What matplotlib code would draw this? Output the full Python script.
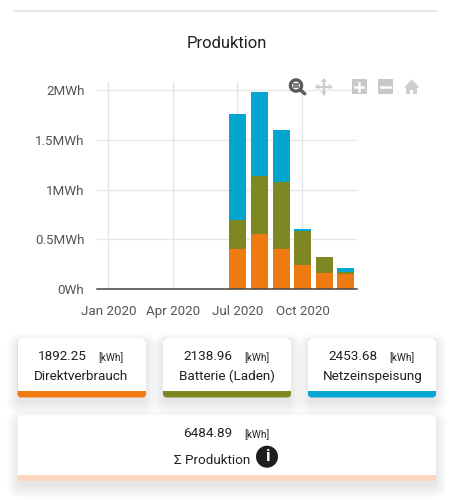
from datetime import date

import matplotlib
matplotlib.use("Agg")
import matplotlib.pyplot as plt
from matplotlib.patches import Circle, FancyBboxPatch, Polygon, Rectangle

plt.rcParams["font.family"] = ["Roboto", "DejaVu Sans"]

# Monthly production in MWh, stacked bottom to top
months = [date(2020, m, 1) for m in (7, 8, 9, 10, 11, 12)]
direct_use = [0.40, 0.55, 0.40, 0.24, 0.16, 0.15]
battery = [0.30, 0.59, 0.68, 0.34, 0.16, 0.025]
grid_feed = [1.06, 0.84, 0.52, 0.025, 0.005, 0.035]

y_ticks = [0, 0.5, 1, 1.5, 2]
y_labels = ["0Wh", "0.5MWh", "1MWh", "1.5MWh", "2MWh"]
x_ticks = [date(2020, 1, 1), date(2020, 4, 1), date(2020, 7, 1), date(2020, 10, 1)]
x_labels = ["Jan 2020", "Apr 2020", "Jul 2020", "Oct 2020"]

ORANGE, OLIVE, BLUE, PEACH = "#F07A12", "#7E8722", "#04A5CF", "#FDD6C2"
INK = "#212121"
W, H = 452, 500

fig = plt.figure(figsize=(W / 100, H / 100), dpi=100, facecolor="white")

# Chart area, positioned in pixels
left, right, top, bottom = 97, 357, 82, 289.3
ax = fig.add_axes([left / W, 1 - bottom / H, (right - left) / W, (bottom - top) / H])
ax.set_xlim(date(2019, 12, 16), date(2020, 12, 17))
ax.set_ylim(0, (bottom - top) / 99.7)

bar_width = 24
stack_top = [a + b for a, b in zip(direct_use, battery)]
ax.bar(months, direct_use, width=bar_width, color=ORANGE, zorder=3)
ax.bar(months, battery, width=bar_width, bottom=direct_use, color=OLIVE, zorder=3)
ax.bar(months, grid_feed, width=bar_width, bottom=stack_top, color=BLUE, zorder=3)

ax.set_yticks(y_ticks, y_labels)
ax.set_xticks(x_ticks, x_labels)
ax.tick_params(axis="both", length=0, labelsize=9.6, labelcolor="#555555")
ax.tick_params(axis="y", pad=9)
ax.tick_params(axis="x", pad=11.5)
ax.grid(axis="y", color="#E8E8E8", lw=1, zorder=0)
ax.grid(axis="x", color="#E6E6E6", lw=1, zorder=0)
for side in ("top", "right", "left"):
    ax.spines[side].set_visible(False)
ax.spines["bottom"].set_color("#444444")
ax.spines["bottom"].set_linewidth(1.1)
ax.spines["bottom"].set_zorder(4)

# Page layer in pixel coordinates: divider, heading, toolbar, summary cards
page = fig.add_axes([0, 0, 1, 1], facecolor="none")
page.set_xlim(0, W)
page.set_ylim(H, 0)
page.axis("off")

page.plot([14, 437], [11, 11], color="#E4E4E4", lw=1.2)
page.text(226.5, 43, "Produktion", ha="center", va="center", fontsize=12, color=INK)


def rounded(x0, y0, x1, y1, color, radius=4.0, **kw):
    patch = FancyBboxPatch((x0 + radius, y0 + radius), x1 - x0 - 2 * radius, y1 - y0 - 2 * radius,
                           boxstyle=f"round,pad={radius},rounding_size={radius}",
                           fc=color, ec="none", **kw)
    page.add_patch(patch)
    return patch


def card(x0, y0, x1, y1, strip_top, strip_color):
    # Soft drop shadow built from widening translucent layers
    for grow in range(11, -1, -1):
        rounded(x0 - grow, y0 - grow + 6, x1 + grow, y1 + grow + 6, "#000000",
                radius=4 + grow, alpha=0.009)
    rounded(x0, y0, x1, y1, strip_color)
    face = rounded(x0, y0, x1, y1, "white")
    clip = Rectangle((x0 - 1, y0 - 1), x1 - x0 + 2, strip_top - y0 + 1, transform=page.transData)
    face.set_clip_path(clip)


# Summary card contents
card_values = ["1892.25", "2138.96", "2453.68"]
card_names = ["Direktverbrauch", "Batterie (Laden)", "Netzeinspeisung"]
total_value = "6484.89"
total_name = "Σ Produktion"
unit = "[kWh]"

card_spans = [(17.5, 146), (163, 291), (308, 436)]
value_x = [62.7, 208, 353.3]
unit_x = [111, 257, 402.3]
name_x = [81.3, 227, 372.3]
for span, colour, val, name, vx, ux, nx in zip(card_spans, (ORANGE, OLIVE, BLUE), card_values,
                                               card_names, value_x, unit_x, name_x):
    card(span[0], 338, span[1], 397.5, 391, colour)
    page.text(vx, 356.7, val, ha="center", va="center", fontsize=9.7, color=INK)
    page.text(ux, 357.5, unit, ha="center", va="center", fontsize=7.3, color=INK)
    page.text(nx, 376.7, name, ha="center", va="center", fontsize=9.7, color=INK)

card(17.5, 415, 436, 481, 474.5, PEACH)
page.text(207.7, 433.7, total_value, ha="center", va="center", fontsize=9.7, color=INK)
page.text(257, 434.5, unit, ha="center", va="center", fontsize=7.3, color=INK)
page.text(211.7, 460, total_name, ha="center", va="center", fontsize=9.7, color=INK)
page.add_patch(Circle((267, 456.7), 11, fc="#1E1E1E", ec="none"))
page.text(267, 456.7, "i", ha="center", va="center", fontsize=12.5, fontweight="bold", color="white")

# Toolbar: zoom, pan, plus, minus, home
page.add_patch(Circle((296, 85.5), 5.6, fc="white", ec="#5A5A5A", lw=2.4))
page.add_patch(Rectangle((293.3, 82.8), 5.4, 5.4, fc="#5A5A5A", ec="none", alpha=0.75))
page.plot([300, 304.8], [89.7, 93.8], color="#5A5A5A", lw=2.4, solid_capstyle="round")

PALE = "#CCCCCC"
cx, cy = 323.7, 86.7
page.plot([cx - 7, cx + 7], [cy, cy], color=PALE, lw=1.6)
page.plot([cx, cx], [cy - 7, cy + 7], color=PALE, lw=1.6)
for dx, dy in ((1, 0), (-1, 0), (0, 1), (0, -1)):
    tip = (cx + 8.5 * dx, cy + 8.5 * dy)
    page.add_patch(Polygon([tip, (cx + 5 * dx + 3 * dy, cy + 5 * dy + 3 * dx),
                            (cx + 5 * dx - 3 * dy, cy + 5 * dy - 3 * dx)], fc=PALE, ec="none"))

page.add_patch(Rectangle((351.7, 79.3), 15, 15, fc="#C8C8C8", ec="none"))
page.plot([355, 363.4], [86.8, 86.8], color="white", lw=1.8)
page.plot([359.2, 359.2], [82.6, 91], color="white", lw=1.8)
page.add_patch(Rectangle((378, 79.3), 15, 15, fc="#C8C8C8", ec="none"))
page.plot([381.3, 389.7], [86.8, 86.8], color="white", lw=1.8)

page.add_patch(Polygon([(404, 87.5), (411.8, 79.5), (419.6, 87.5)], fc="#CFCFCF", ec="none"))
page.add_patch(Rectangle((406.5, 87), 10.6, 6.8, fc="#CFCFCF", ec="none"))
page.add_patch(Rectangle((410.3, 89.5), 3, 4.3, fc="white", ec="none"))

fig.savefig("out.png", dpi=100, facecolor="white")
